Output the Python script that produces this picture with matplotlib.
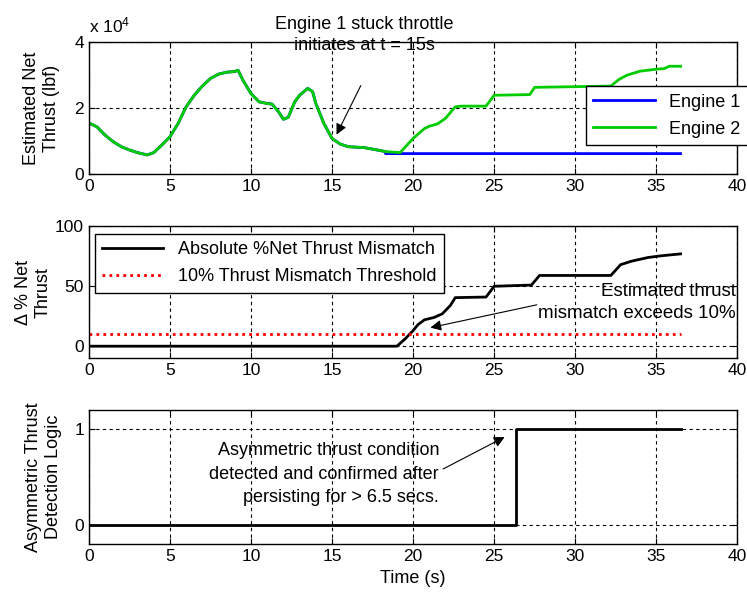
import numpy as np
import matplotlib
matplotlib.use('Agg')
import matplotlib.pyplot as plt

plt.rcParams['font.family'] = ['Liberation Sans', 'DejaVu Sans']
plt.rcParams['mathtext.default'] = 'regular'

# top panel: estimated net thrust, in units of 1e4 lbf
t_thrust = [0, 0.5, 1, 1.5, 2, 2.5, 3, 3.6, 4, 4.5, 5, 5.5, 6, 6.5, 7, 7.5, 8, 8.5, 9, 9.2,
            9.5, 10, 10.5, 11, 11.3, 11.7, 12, 12.3, 12.7, 13, 13.5, 13.8, 14, 14.5, 15, 15.5,
            16, 17, 18, 18.3, 19.2, 20, 20.7, 21, 21.5, 22, 22.6, 23, 24.5, 25, 27.2, 27.5,
            30, 32.2, 32.7, 33.2, 34, 35, 35.5, 35.8, 36.5]
engine2 = [1.55, 1.43, 1.18, 0.98, 0.83, 0.73, 0.65, 0.58, 0.65, 0.88, 1.13, 1.53, 2.04, 2.39,
           2.67, 2.9, 3.03, 3.09, 3.11, 3.15, 2.85, 2.44, 2.19, 2.14, 2.12, 1.89, 1.66, 1.72,
           2.19, 2.39, 2.6, 2.5, 2.14, 1.53, 1.08, 0.91, 0.83, 0.8, 0.71, 0.68, 0.65, 1.08,
           1.38, 1.45, 1.52, 1.69, 2.04, 2.06, 2.06, 2.39, 2.41, 2.63, 2.65, 2.67, 2.87, 3.0,
           3.12, 3.18, 3.2, 3.27, 3.27]
stuck_level = 0.62
t_stuck = 18.3

# middle panel: absolute % net thrust mismatch
t_mis = [0, 19, 19.5, 20, 20.3, 20.7, 21.3, 21.8, 22.3, 22.6, 24.5, 25, 27.3, 27.8, 32.2,
         32.8, 33.5, 34.5, 35.3, 36.5]
mismatch = [0, 0, 6, 13, 18, 22, 24, 27, 34, 40.5, 41, 50, 51, 59, 59, 68, 71, 74, 75.4, 77]
threshold = 10
t_end = 36.5

# bottom panel: detection logic
t_detect = 26.35

t_arr = np.array(t_thrust)
e2 = np.array(engine2)
keep = t_arr <= t_stuck
t1 = np.append(t_arr[keep], [t_stuck, t_end])
e1 = np.append(e2[keep], [stuck_level, stuck_level])

fig = plt.figure(figsize=(7.47, 5.94), dpi=100)
ax1 = fig.add_axes([0.119, 0.707, 0.868, 0.222])
ax2 = fig.add_axes([0.119, 0.397, 0.868, 0.222])
ax3 = fig.add_axes([0.119, 0.084, 0.868, 0.226])

grid_kw = dict(color='k', linestyle=(0, (3, 3)), linewidth=0.8)
for ax in (ax1, ax2, ax3):
    ax.set_xlim(0, 40)
    ax.set_xticks(range(0, 41, 5))
    ax.grid(True, **grid_kw)
    ax.tick_params(direction='in', top=True, right=True, labelsize=12.5, length=4)
    for s in ax.spines.values():
        s.set_linewidth(1.0)

arrow = dict(arrowstyle='-|>', color='k', lw=0.8, mutation_scale=16)
leg_kw = dict(fontsize=13, frameon=True, fancybox=False, edgecolor='k', framealpha=1,
              borderaxespad=0, handlelength=3.4, labelspacing=0.55)

# top
ax1.plot(t1, e1, color='#0000ff', lw=2, label='Engine 1')
ax1.plot(t_arr, e2, color='#00cc00', lw=2, label='Engine 2')
ax1.set_ylim(0, 4)
ax1.set_yticks([0, 2, 4])
ax1.set_ylabel('Estimated Net\nThrust (lbf)', fontsize=13)
ax1.yaxis.set_label_coords(-0.045, 0.5)
ax1.text(0, 1.13, r'x 10$^{4}$', transform=ax1.transAxes, fontsize=12.5, va='center', ha='left')
ax1.legend(loc='upper left', bbox_to_anchor=(0.767, 0.665), **leg_kw)
ax1.annotate('', xy=(15.2, 1.12), xytext=(16.85, 2.76), arrowprops=arrow)
ax1.text(17.0, 4.22, 'Engine 1 stuck throttle\ninitiates at t = 15s', ha='center', va='center',
         multialignment='center', fontsize=13, linespacing=1.35, clip_on=False)

# middle
ax2.plot(t_mis, mismatch, color='k', lw=2, label='Absolute %Net Thrust Mismatch')
ax2.plot([0, t_end], [threshold, threshold], color='r', lw=2, linestyle=(0, (1, 1.5)),
         label='10% Thrust Mismatch Threshold')
ax2.set_ylim(-10, 100)
ax2.set_yticks([0, 50, 100])
ax2.set_ylabel('Δ % Net\nThrust', fontsize=13)
ax2.yaxis.set_label_coords(-0.058, 0.5)
ax2.legend(loc='upper left', bbox_to_anchor=(0.009, 0.94), **leg_kw)
ax2.annotate('', xy=(20.9, 15), xytext=(27.8, 35), arrowprops=arrow)
ax2.text(39.9, 36.5, 'Estimated thrust\nmismatch exceeds 10%', ha='right', va='center',
         multialignment='right', fontsize=13.5, linespacing=1.4)

# bottom
ax3.plot([0, t_detect, t_detect, t_end], [0, 0, 1, 1], color='k', lw=2)
ax3.set_ylim(-0.2, 1.2)
ax3.set_yticks([0, 1])
ax3.set_ylabel('Asymmetric Thrust\nDetection Logic', fontsize=13)
ax3.yaxis.set_label_coords(-0.042, 0.5)
ax3.set_xlabel('Time (s)', fontsize=13)
ax3.annotate('', xy=(25.8, 0.93), xytext=(21.7, 0.57), arrowprops=arrow)
ax3.text(21.6, 0.53, 'Asymmetric thrust condition\ndetected and confirmed after\npersisting for > 6.5 secs.',
         ha='right', va='center', multialignment='right', fontsize=13, linespacing=1.5)

fig.savefig('out.png', dpi=100)
